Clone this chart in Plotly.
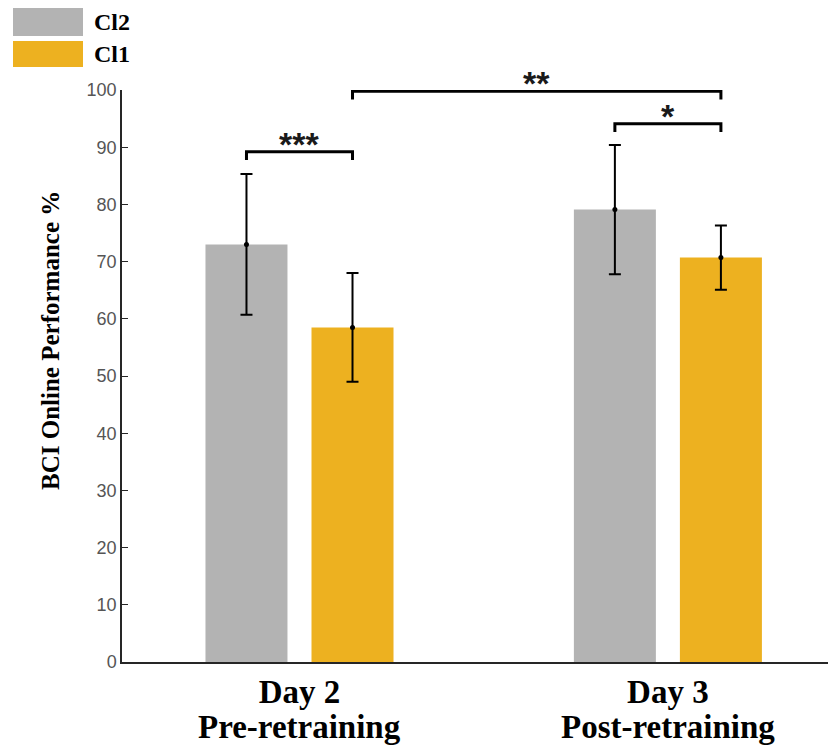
import plotly.graph_objects as go

# ---- data -------------------------------------------------------------
categories = ["Day 2", "Day 3"]
phases = ["Pre-retraining", "Post-retraining"]
series_names = ["Cl2", "Cl1"]
cl2_mean = [73.0, 79.1]
cl2_err = [12.3, 11.3]
cl1_mean = [58.5, 70.7]
cl1_err = [9.5, 5.6]
y_tick_vals = [0, 10, 20, 30, 40, 50, 60, 70, 80, 90, 100]
sig_labels = ["***", "**", "*"]

# ---- styling ----------------------------------------------------------
GRAY = "#B3B3B3"
GOLD = "#EDB120"
AXIS = "#262626"
SERIF = "Liberation Serif, Times New Roman, serif"
SANS = "Liberation Sans, Arial, sans-serif"

W, H = 828, 747
ML, MR, MT, MB = 122, 0, 90, 85
PW, PH = W - ML - MR, H - MT - MB

OFFSET = 0.1439      # half distance between the two bars of a group
BAR_W = 0.2226
X_RANGE = [-0.4818, 1.4346]

group_x = list(range(len(categories)))
series = [
    (series_names[0], cl2_mean, cl2_err, GRAY, -OFFSET),
    (series_names[1], cl1_mean, cl1_err, GOLD, OFFSET),
]


def px_x(p):
    return (p - ML) / PW


def px_y(p):
    return (H - MB - p) / PH


fig = go.Figure()
for name, means, errs, color, off in series:
    xs = [g + off for g in group_x]
    fig.add_trace(go.Bar(
        x=xs, y=means, width=BAR_W, name=name, marker_color=color,
        marker_line_width=0, showlegend=False,
        error_y=dict(type="data", array=errs, visible=True,
                     color="black", thickness=2, width=6),
    ))
    fig.add_trace(go.Scatter(
        x=xs, y=means, mode="markers", showlegend=False,
        marker=dict(color="black", size=5),
    ))

# significance brackets: (group, series) -> (group, series), height
brackets = [
    ((0, 0), (0, 1), 89.2),
    ((0, 1), (1, 1), 99.8),
    ((1, 0), (1, 1), 94.1),
]
DROP = 1.45
offs = [-OFFSET, OFFSET]
for (ga, sa), (gb, sb), lvl in brackets:
    xa = group_x[ga] + offs[sa]
    xb = group_x[gb] + offs[sb]
    fig.add_shape(type="path",
                  path=f"M {xa},{lvl - DROP} L {xa},{lvl} L {xb},{lvl} L {xb},{lvl - DROP}",
                  xref="x", yref="y", line=dict(color="black", width=3))
for ((ga, sa), (gb, sb), lvl), lab in zip(brackets, sig_labels):
    xm = (group_x[ga] + offs[sa] + group_x[gb] + offs[sb]) / 2
    fig.add_annotation(x=xm, y=lvl, xref="x", yref="y", text=f"<b>{lab}</b>",
                       showarrow=False, yanchor="middle", yshift=8,
                       font=dict(family=SANS, size=34, color="#1a1a1a"))

# phase line under each day label
for g, ph in zip(group_x, phases):
    fig.add_annotation(x=g, y=px_y(727), xref="x", yref="paper", text=f"<b>{ph}</b>",
                       showarrow=False, yanchor="middle",
                       font=dict(family=SERIF, size=33, color="black"))

# legend boxes
for (name, _, _, color, _), (top, bot) in zip(series, [(8, 36), (41, 67)]):
    fig.add_shape(type="rect", xref="paper", yref="paper",
                  x0=px_x(13), x1=px_x(83), y0=px_y(bot), y1=px_y(top),
                  fillcolor=color, line_width=0)
    fig.add_annotation(x=px_x(92), y=px_y((top + bot) / 2), xref="paper", yref="paper",
                       text=f"<b>{name}</b>", showarrow=False, xanchor="left",
                       yanchor="middle",
                       font=dict(family=SERIF, size=24, color="black"))

# y-axis title
fig.add_annotation(x=px_x(50), y=px_y(341), xref="paper", yref="paper",
                   text="<b>BCI Online Performance %</b>", textangle=-90,
                   showarrow=False, xanchor="center", yanchor="middle",
                   font=dict(family=SERIF, size=25, color="black"))

fig.update_layout(
    width=W, height=H,
    margin=dict(l=ML, r=MR, t=MT, b=MB, pad=0),
    paper_bgcolor="white", plot_bgcolor="white",
    barmode="overlay",
)
fig.update_xaxes(
    range=X_RANGE, tickvals=group_x, ticktext=[f"<b>{c}</b>" for c in categories],
    tickfont=dict(family=SERIF, size=33, color="black"),
    showline=True, linecolor=AXIS, linewidth=1.5, ticks="",
    showgrid=False, zeroline=False,
)
fig.update_yaxes(
    range=[0, 100], tickvals=y_tick_vals,
    tickfont=dict(family=SANS, size=18, color="#555555"),
    showline=True, linecolor=AXIS, linewidth=1.5,
    ticks="inside", ticklen=6, tickcolor=AXIS, tickwidth=1.2,
    showgrid=False, zeroline=False,
)

fig.write_html("out.html")
